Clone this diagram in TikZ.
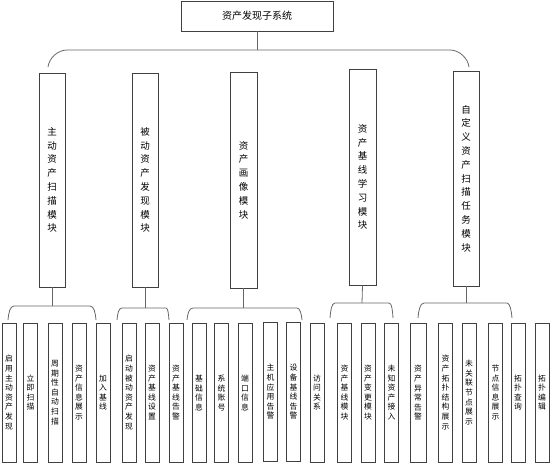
\documentclass[tikz,border=0pt]{standalone}
\usepackage{fontspec}
\newfontfamily\cjk{Noto Sans CJK SC}
\begin{document}
\begin{tikzpicture}[x=1pt,y=-1pt,
  box/.style={draw=black!75,line width=0.9pt,fill=white,inner sep=0pt,align=center,font=\cjk},
  titlebox/.style={box,minimum width=152pt,minimum height=30pt,font=\cjk\fontsize{10}{12}\selectfont},
  modbox/.style={box,minimum width=26pt,minimum height=214pt,font=\cjk\fontsize{9.5}{13.8}\selectfont},
  leafbox/.style={box,minimum width=14pt,minimum height=139pt,font=\cjk\fontsize{7.8}{9.6}\selectfont},
  conn/.style={draw=black!60,line width=0.8pt}]
\useasboundingbox (0,0) rectangle (552,466);
% title
\node[titlebox] (T) at (257,16) {资产发现子系统};
% modules
\node[modbox] (M1) at (52,180) {主\\动\\资\\产\\扫\\描\\模\\块};
\node[modbox] (M2) at (145,180) {被\\动\\资\\产\\发\\现\\模\\块};
\node[modbox,minimum width=27pt,minimum height=216pt] (M3) at (243.5,180) {资\\产\\画\\像\\模\\块};
\node[modbox,minimum width=27pt,minimum height=216pt] (M4) at (362.5,177) {资\\产\\基\\线\\学\\习\\模\\块};
\node[modbox,minimum height=215pt] (M5) at (466,178.5) {自\\定\\义\\资\\产\\扫\\描\\任\\务\\模\\块};
% leaves group 1
\node[leafbox] (A1) at (9,392.5) {启\\用\\主\\动\\资\\产\\发\\现};
\node[leafbox] (A2) at (30.5,392.5) {立\\即\\扫\\描};
\node[leafbox] (A3) at (55,392.5) {周\\期\\性\\自\\动\\扫\\描};
\node[leafbox] (A4) at (79,392.5) {资\\产\\信\\息\\展\\示};
\node[leafbox] (A5) at (103,392.5) {加\\入\\基\\线};
% group 2
\node[leafbox] (B1) at (129,392.5) {启\\动\\被\\动\\资\\产\\发\\现};
\node[leafbox] (B2) at (152,392.5) {资\\产\\基\\线\\设\\置};
\node[leafbox] (B3) at (176,392.5) {资\\产\\基\\线\\告\\警};
% group 3
\node[leafbox] (C1) at (199,393) {基\\础\\信\\息};
\node[leafbox] (C2) at (221.5,393) {系\\统\\账\\号};
\node[leafbox] (C3) at (245,393) {端\\口\\信\\息};
\node[leafbox] (C4) at (270.5,392) {主\\机\\应\\用\\告\\警};
\node[leafbox] (C5) at (293.5,392) {设\\备\\基\\线\\告\\警};
\node[leafbox] (C6) at (317,392.5) {访\\问\\关\\系};
% group 4
\node[leafbox] (D1) at (344.5,392.5) {资\\产\\基\\线\\模\\块};
\node[leafbox] (D2) at (368,392.5) {资\\产\\变\\更\\模\\块};
\node[leafbox] (D3) at (391.5,392.5) {未\\知\\资\\产\\接\\入};
\node[leafbox,minimum width=16pt] (D4) at (418,393) {资\\产\\异\\常\\告\\警};
% group 5
\node[leafbox] (E1) at (445.5,392.5) {资\\产\\拓\\扑\\结\\构\\展\\示};
\node[leafbox] (E2) at (469,392.5) {未\\关\\联\\节\\点\\展\\示};
\node[leafbox] (E3) at (495.5,392.5) {节\\点\\信\\息\\展\\示};
\node[leafbox] (E4) at (518,392.5) {拓\\扑\\查\\询};
\node[leafbox] (E5) at (542,392.5) {拓\\扑\\编\\辑};
% top bracket
\coordinate (t0) at (257,50);
\draw[conn] (T.south) -- (t0);
\draw[conn] (48,67) .. controls (49,58) and (58,50) .. (67,50) -- (450,50) .. controls (459,50) and (468,58) .. (469,67);
% group brackets
\coordinate (g1) at (52,306);
\draw[conn] (M1.south) -- (g1);
\draw[conn] (8,320) .. controls (8.5,313) and (10,306) .. (14,306) -- (90,306) .. controls (94,306) and (95.5,313) .. (96,320);
\coordinate (g2) at (145,308);
\draw[conn] (M2.south) -- (g2);
\draw[conn] (117,320) .. controls (117.5,314) and (118.5,308) .. (122,308) -- (166,308) .. controls (168,308) and (168.5,314) .. (169,320);
\coordinate (g3) at (243.5,308);
\draw[conn] (M3.south) -- (g3);
\draw[conn] (187,320) .. controls (187.5,314) and (189,308) .. (193,308) -- (297,308) .. controls (300,308) and (301.5,314) .. (302,320);
\coordinate (g4) at (362,303);
\draw[conn] (M4.south) -- (g4);
\draw[conn] (330,318) .. controls (330.5,311) and (331.5,303) .. (335,303) -- (389,303) .. controls (392,303) and (392.5,311) .. (393,318);
\coordinate (g5) at (466,303);
\draw[conn] (M5.south) -- (g5);
\draw[conn] (418,318) .. controls (418.5,311) and (420,303) .. (424,303) -- (507,303) .. controls (510,303) and (511.5,311) .. (512,318);
\end{tikzpicture}
\end{document}
